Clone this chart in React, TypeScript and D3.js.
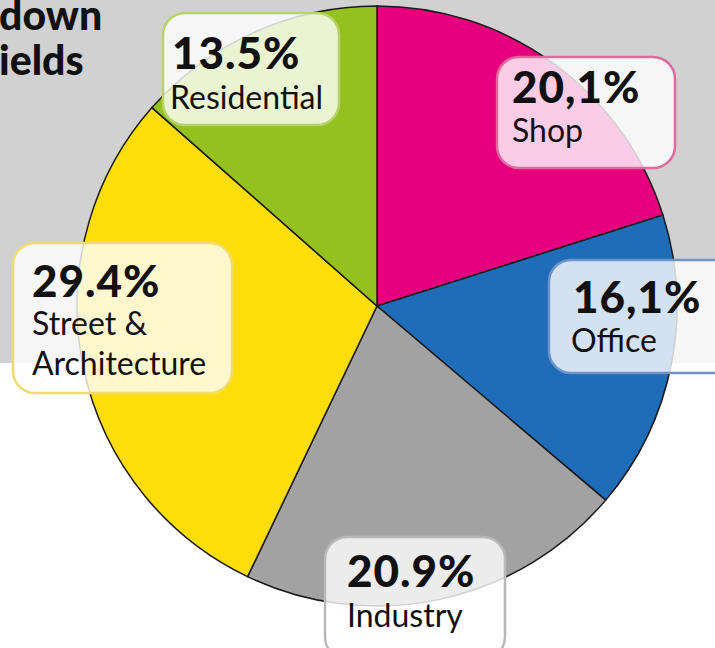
import { useEffect, useRef } from "react";
import * as d3 from "d3";

// slices clockwise from 12 o'clock
const categories = ["Shop", "Office", "Industry", "Street & Architecture", "Residential"];
const shares = [20.1, 16.1, 20.9, 29.4, 13.5];
const shareLabels = ["20,1%", "16,1%", "20.9%", "29.4%", "13.5%"];
const labelLines = [["Shop"], ["Office"], ["Industry"], ["Street &", "Architecture"], ["Residential"]];
const titleFragments = ["down", "ields"];

const colors = ["#e6007e", "#1f6db8", "#a2a2a2", "#fedd0a", "#95c11f"];
const boxStroke = ["#e06a9e", "#6f93c9", "#b8b8b8", "#f0dc6e", "#b7d268"];

// box layout for each label: x, y, w, h
const boxes = [
  { x: 497, y: 57, w: 178, h: 111 },
  { x: 549, y: 260, w: 190, h: 113 },
  { x: 325, y: 537, w: 180, h: 122 },
  { x: 13, y: 243, w: 219, h: 150 },
  { x: 163, y: 13, w: 176, h: 112 },
];

export default function App() {
  const svgRef = useRef<SVGSVGElement>(null);

  useEffect(() => {
    const width = 715;
    const height = 648;
    const cx = 377;
    const cy = 306;
    const radius = 300;

    const svg = d3.select(svgRef.current)
      .attr("width", width)
      .attr("height", height)
      .style("position", "absolute")
      .style("left", 0)
      .style("top", 0)
      .style("background", "#ffffff");

    svg.selectAll("*").remove();

    // gray backdrop
    svg.append("rect")
      .attr("x", 0).attr("y", 0)
      .attr("width", width).attr("height", 363)
      .attr("fill", "#d1d1d1");

    // cut-off title
    svg.append("g")
      .selectAll("text")
      .data(titleFragments)
      .join("text")
      .attr("x", -1)
      .attr("y", (d, i) => 30 + i * 45)
      .attr("font-family", "Lato, sans-serif")
      .attr("font-weight", 900)
      .attr("font-size", 41)
      .attr("fill", "#111")
      .text(d => d);

    const pie = d3.pie<number>().sort(null).value(d => d);
    const arc = d3.arc<d3.PieArcDatum<number>>().innerRadius(0).outerRadius(radius);

    svg.append("g")
      .attr("transform", `translate(${cx},${cy})`)
      .selectAll("path")
      .data(pie(shares))
      .join("path")
      .attr("d", arc)
      .attr("fill", (d, i) => colors[i])
      .attr("stroke", "#1a1a1a")
      .attr("stroke-width", 1.5);

    // label boxes
    const lg = svg.append("g")
      .selectAll("g")
      .data(categories)
      .join("g")
      .attr("transform", (d, i) => `translate(${boxes[i].x},${boxes[i].y})`);

    lg.append("rect")
      .attr("width", (d, i) => boxes[i].w)
      .attr("height", (d, i) => boxes[i].h)
      .attr("rx", 22)
      .attr("fill", "#ffffff")
      .attr("fill-opacity", 0.8)
      .attr("stroke", (d, i) => boxStroke[i])
      .attr("stroke-width", 2.5);

    const pctX = [15, 24, 22, 19, 9];
    const pctY = [46, 53, 50, 54, 56];
    lg.append("text")
      .attr("x", (d, i) => pctX[i])
      .attr("y", (d, i) => pctY[i])
      .attr("font-family", "Lato, sans-serif")
      .attr("font-weight", 900)
      .attr("font-size", 44)
      .attr("letter-spacing", 1)
      .attr("fill", "#111")
      .text((d, i) => shareLabels[i]);

    const lblX = [15, 22, 22, 19, 7];
    const lblY = [85, 92, 90, 92, 96];
    lg.each(function (d, i) {
      d3.select(this)
        .selectAll("text.lbl")
        .data(labelLines[i])
        .join("text")
        .attr("class", "lbl")
        .attr("x", lblX[i])
        .attr("y", (t, j) => lblY[i] + j * 40)
        .attr("font-family", "Lato, sans-serif")
        .attr("font-size", 32)
        .attr("fill", "#111")
        .text(t => t);
    });
  }, []);

  return <svg ref={svgRef}></svg>;
}
